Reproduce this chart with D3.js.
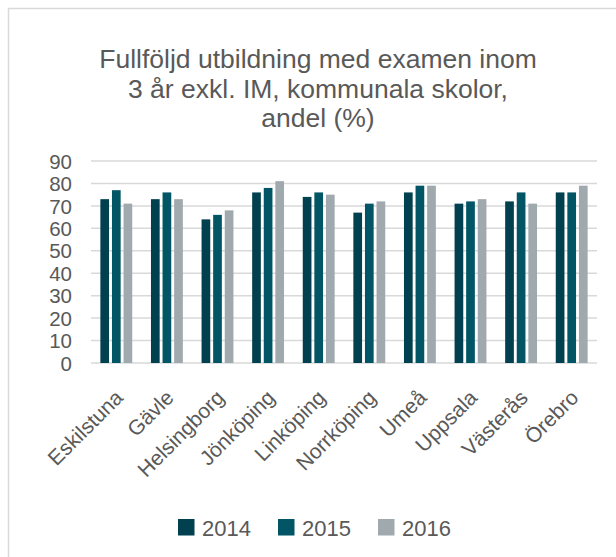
<!DOCTYPE html>
<html>
<head>
<meta charset="utf-8">
<script src="https://cdn.jsdelivr.net/npm/d3@7"></script>
<style>
  body { margin: 0; background: #fff; }
  text { font-family: "Liberation Sans", Arial, sans-serif; fill: #595959; }
</style>
</head>
<body>
<div id="chart"></div>
<script>
// data
const cities = ["Eskilstuna", "Gävle", "Helsingborg", "Jönköping", "Linköping",
                "Norrköping", "Umeå", "Uppsala", "Västerås", "Örebro"];
const years = ["2014", "2015", "2016"];
const v2014 = [73, 73, 64, 76, 74, 67, 76, 71, 72, 76];
const v2015 = [77, 76, 66, 78, 76, 71, 79, 72, 76, 76];
const v2016 = [71, 73, 68, 81, 75, 72, 79, 73, 71, 79];
const yTicks = [0, 10, 20, 30, 40, 50, 60, 70, 80, 90];
const titleLines = ["Fullföljd utbildning med examen inom",
                    "3 år exkl. IM, kommunala skolor,",
                    "andel (%)"];

const series = [v2014, v2015, v2016];
const colors = ["#01404e", "#015565", "#a0a9ae"];

const W = 616, H = 557;
const margin = ({top: 161, right: 19, bottom: 194, left: 91});
const width = W - margin.left - margin.right,
      height = H - margin.top - margin.bottom;

const root = d3.select("#chart").append("svg")
    .attr("width", W)
    .attr("height", H);

// outer frame (right and bottom edges fall outside the picture)
root.append("rect")
    .attr("x", 8.5).attr("y", 8.5)
    .attr("width", 620).attr("height", 560)
    .attr("fill", "none")
    .attr("stroke", "#d9d9d9")
    .attr("stroke-width", 1.5);

// title
root.append("text")
    .attr("text-anchor", "middle")
    .attr("font-size", 26.5)
    .selectAll("tspan")
    .data(titleLines)
    .join("tspan")
    .attr("x", 318)
    .attr("y", (d, i) => 68 + i * 29.5)
    .text(d => d);

const svg = root.append("g")
    .attr("transform", `translate(${margin.left},${margin.top})`);

const xScale = d3.scaleBand()
    .domain(cities)
    .range([0, width])
    .paddingInner(0.37)
    .paddingOuter(0.185);
const xSub = d3.scaleBand()
    .domain(years)
    .range([0, xScale.bandwidth()])
    .paddingInner(0.25);
const yScale = d3.scaleLinear()
    .domain([0, 90])
    .range([height, 0]);

// grid lines
svg.append("g")
    .selectAll("line")
    .data(yTicks)
    .join("line")
    .attr("x1", 0)
    .attr("x2", width)
    .attr("y1", d => yScale(d))
    .attr("y2", d => yScale(d))
    .attr("stroke", "#d9d9d9")
    .attr("stroke-width", 1.5);

// y axis labels
const yAxis = d3.axisLeft(yScale).tickValues(yTicks).tickSize(0).tickPadding(19);
svg.append("g")
    .call(yAxis)
    .call(g => g.select(".domain").remove())
    .call(g => g.selectAll("text")
        .attr("font-size", 20.5)
        .attr("font-family", "Liberation Sans, Arial, sans-serif")
        .attr("fill", "#595959")
        .attr("dy", "0.35em"));

// bars
const groups = svg.append("g")
    .selectAll("g")
    .data(cities)
    .join("g")
    .attr("transform", d => `translate(${xScale(d)},0)`);

groups.selectAll("rect")
    .data((d, i) => years.map((y, k) => ({year: y, value: series[k][i], k})))
    .join("rect")
    .attr("x", d => xSub(d.year))
    .attr("width", xSub.bandwidth())
    .attr("y", d => yScale(d.value))
    .attr("height", d => height - yScale(d.value))
    .attr("fill", d => colors[d.k]);

// x axis labels, rotated
const xAxis = d3.axisBottom(xScale).tickSize(0).tickPadding(0);
svg.append("g")
    .attr("transform", `translate(0,${height})`)
    .call(xAxis)
    .call(g => g.select(".domain").remove())
    .call(g => g.selectAll("text")
        .attr("font-size", 21)
        .attr("font-family", "Liberation Sans, Arial, sans-serif")
        .attr("fill", "#595959")
        .attr("text-anchor", "end")
        .attr("dy", "0")
        .attr("transform", "translate(8,36) rotate(-45)"));

// legend
const legendX = [178, 278, 378];
const legend = root.append("g")
    .selectAll("g")
    .data(years)
    .join("g")
    .attr("transform", (d, i) => `translate(${legendX[i]},519)`);
legend.append("rect")
    .attr("width", 16.5)
    .attr("height", 16.5)
    .attr("fill", (d, i) => colors[i]);
legend.append("text")
    .attr("x", 24)
    .attr("y", 16.5)
    .attr("font-size", 22)
    .text(d => d);
</script>
</body>
</html>
